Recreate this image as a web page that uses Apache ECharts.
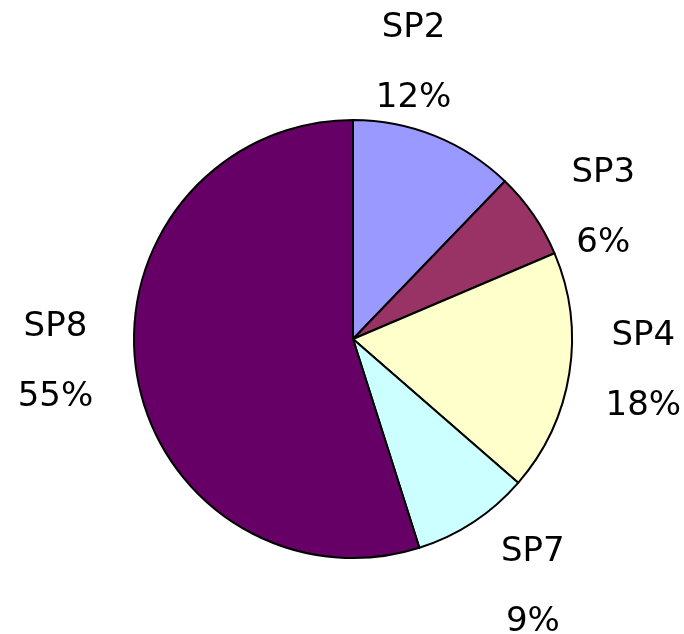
<!DOCTYPE html>
<html>
<head>
<meta charset="utf-8">
<script src="https://cdn.jsdelivr.net/npm/echarts@6/dist/echarts.min.js"></script>
<style>
  html, body { margin: 0; padding: 0; background: #fff; }
  #pieChart { width: 684px; height: 634px; }
</style>
</head>
<body>
<div id="pieChart"></div>
<script>
// Chart data
const categories = ['SP2', 'SP3', 'SP4', 'SP7', 'SP8'];
const shares = [12.2, 6.4, 17.8, 8.7, 54.9];
const sliceColors = ['#9999FF', '#993366', '#FFFFCC', '#CCFFFF', '#660066'];
// nudges for the labels so they sit like the original layout
const labelNudge = [[-49, -4], [9, 35], [1, -14], [19, 3], [-8, -22]];

const pieCtx = echarts.init(document.getElementById('pieChart'));

const pieCenter = [353, 339];
const pieRadius = 219;

var option = {
    animation: false,
    series: [
        {
            // the visible pie
            type: 'pie',
            center: pieCenter,
            radius: [0, pieRadius],
            startAngle: 90,
            clockwise: true,
            silent: true,
            label: { show: false },
            labelLine: { show: false },
            itemStyle: {
                borderColor: '#000',
                borderWidth: 2
            },
            data: categories.map(function (name, i) {
                return {
                    name: name,
                    value: shares[i],
                    itemStyle: { color: sliceColors[i] }
                };
            })
        },
        {
            // transparent ring that only carries the labels
            type: 'pie',
            center: pieCenter,
            radius: [0, 580],
            startAngle: 90,
            clockwise: true,
            silent: true,
            percentPrecision: 0,
            z: 1,
            itemStyle: {
                color: 'rgba(0,0,0,0)',
                borderWidth: 0
            },
            label: {
                show: true,
                position: 'inside',
                rotate: 0,
                formatter: '{b}\n{d}%',
                fontFamily: 'DejaVu Sans',
                fontSize: 34,
                lineHeight: 70,
                color: '#000',
                align: 'center'
            },
            labelLine: { show: false },
            data: categories.map(function (name, i) {
                return {
                    name: name,
                    value: shares[i],
                    label: { offset: labelNudge[i] }
                };
            })
        }
    ]
};
pieCtx.setOption(option);
</script>
</body>
</html>
